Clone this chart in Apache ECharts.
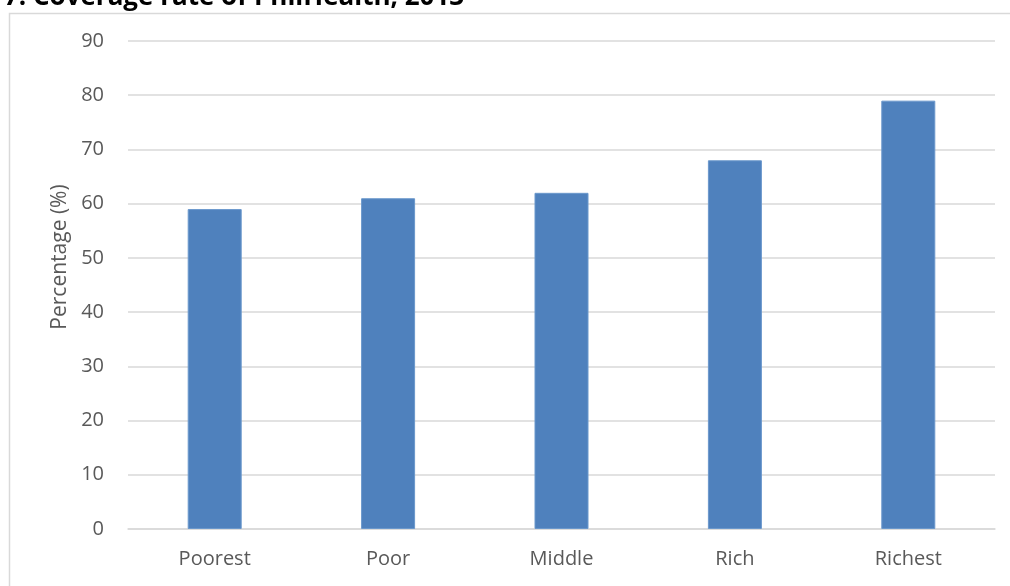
<!DOCTYPE html>
<html><head><meta charset="utf-8">
<script src="https://cdn.jsdelivr.net/npm/echarts@6/dist/echarts.min.js"></script>
<style>html,body{margin:0;padding:0;background:#fff}#c{width:1010px;height:586px;position:relative}</style>
</head><body>
<div id="c"></div>
<script>
const titleText = "7. Coverage rate of PhilHealth, 2013";
const categories = ["Poorest", "Poor", "Middle", "Rich", "Richest"];
const values = [59, 61, 62, 68, 79];
const yAxisName = "Percentage (%)";

const chart = echarts.init(document.getElementById('c'), null, {renderer: 'canvas'});
chart.setOption({
  animation: false,
  backgroundColor: '#fff',
  graphic: [{
    type: 'rect', left: 7, top: 11, shape: {width: 1010, height: 600},
    style: {fill: 'none', stroke: '#d9d9d9', lineWidth: 1.5}, silent: true
  }, {
    type: 'text', x: 60, y: 257, rotation: Math.PI / 2,
    style: {text: yAxisName, fill: '#595959', fontSize: 21, fontFamily: 'Open Sans',
      align: 'center', verticalAlign: 'middle'}, silent: true
  }],
  title: {
    text: titleText, left: -1, top: -20,
    textStyle: {fontFamily: 'Open Sans', fontWeight: 'bold', fontSize: 26, color: '#000'}
  },
  grid: {left: 128, right: 15, top: 41, bottom: 57},
  xAxis: {
    type: 'category', data: categories,
    axisLine: {lineStyle: {color: '#d9d9d9', width: 1.5}},
    axisTick: {show: false},
    axisLabel: {color: '#595959', fontSize: 20, fontFamily: 'Open Sans', margin: 20}
  },
  yAxis: {
    type: 'value', min: 0, max: 90, interval: 10,
    axisLine: {show: false}, axisTick: {show: false},
    axisLabel: {color: '#595959', fontSize: 20, fontFamily: 'Open Sans', margin: 24},
    splitLine: {lineStyle: {color: '#d9d9d9', width: 1.5}}
  },
  series: [{
    type: 'bar', data: values, barWidth: 54,
    itemStyle: {color: '#4F81BD', borderColor: '#6b98cc', borderWidth: 1}
  }]
});
</script>
</body></html>
